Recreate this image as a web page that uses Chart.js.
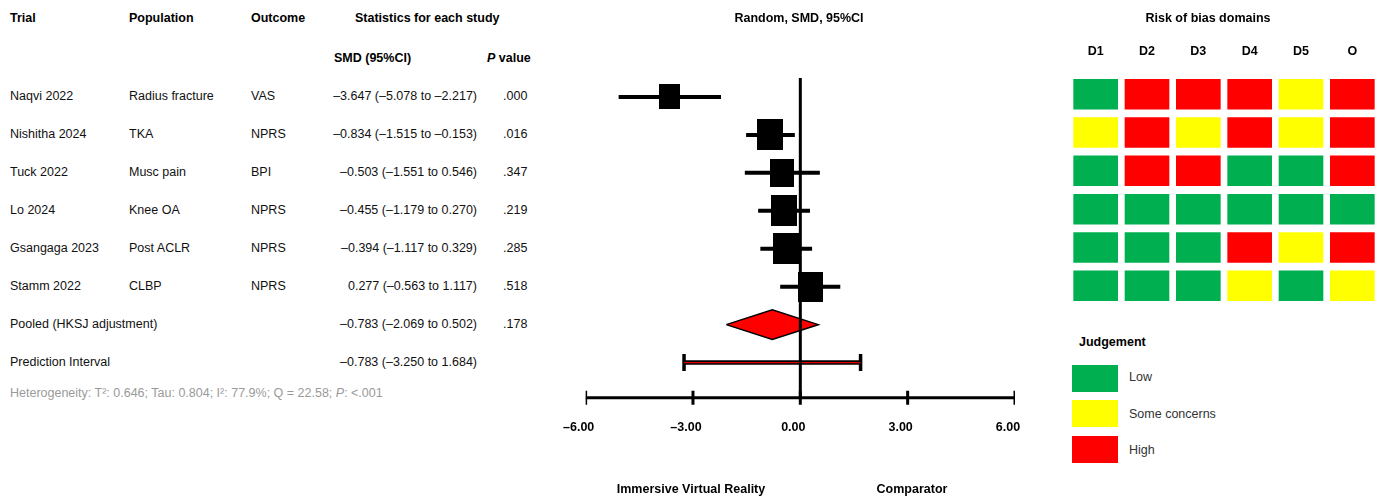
<!DOCTYPE html>
<html><head><meta charset="utf-8">
<script src="https://cdn.jsdelivr.net/npm/chart.js@4.4.1/dist/chart.umd.min.js"></script>
<style>
html,body{margin:0;padding:0;background:#fff;}
body{width:1386px;height:500px;position:relative;overflow:hidden;font-family:"Liberation Sans",Arial,sans-serif;font-size:12.5px;color:#111;}
.t{position:absolute;white-space:nowrap;line-height:14px;height:14px;}
.b{font-weight:bold;color:#000;}
.r{text-align:right;}
.c{text-align:center;}
canvas{position:absolute;top:0;}
#forest{left:560px;}
#rob{left:1040px;}
.sw{position:absolute;width:46px;height:27px;}
</style></head><body>
<div id="table"></div>
<canvas id="forest" width="480" height="500"></canvas>
<canvas id="rob" width="346" height="310"></canvas>
<script>
// ---------- DATA ----------
const trials = ["Naqvi 2022","Nishitha 2024","Tuck 2022","Lo 2024","Gsangaga 2023","Stamm 2022"];
const populations = ["Radius fracture","TKA","Musc pain","Knee OA","Post ACLR","CLBP"];
const outcomes = ["VAS","NPRS","BPI","NPRS","NPRS","NPRS"];
const smd = [-3.647,-0.834,-0.503,-0.455,-0.394,0.277];
const ciLow = [-5.078,-1.515,-1.551,-1.179,-1.117,-0.563];
const ciHigh = [-2.217,-0.153,0.546,0.270,0.329,1.117];
const pValues = [".000",".016",".347",".219",".285",".518"];
const weights = [12.1,18.7,15.4,18.3,18.3,17.2]; // estimated study weights (%)
const pooledLabel = "Pooled (HKSJ adjustment)";
const pooledSMD = -0.783, pooledLow = -2.069, pooledHigh = 0.502, pooledP = ".178";
const predLabel = "Prediction Interval";
const predLow = -3.250, predHigh = 1.684;
const heterogeneity = {t2:"0.646", tau:"0.804", i2:"77.9%", q:"22.58", p:"<.001"};
const xTicks = [-6,-3,0,3,6];
const domains = ["D1","D2","D3","D4","D5","O"];
const robJudgements = [
  ["Low","High","High","High","Some","High"],
  ["Some","High","Some","High","Some","High"],
  ["Low","High","High","Low","Low","High"],
  ["Low","Low","Low","Low","Low","Low"],
  ["Low","Low","Low","High","Some","High"],
  ["Low","Low","Low","Some","Low","Some"]
];
const judgementLevels = ["Low","Some","High"];
const judgementLabels = ["Low","Some concerns","High"];

// ---------- STYLE / LAYOUT ----------
const FONT = '"Liberation Sans", Arial, sans-serif';
const colors = {Low:"#00B050", Some:"#FFFF00", High:"#FF0000"};
const ROW_H = 37.93;

function fmt(v, d){ const s = Math.abs(v).toFixed(d); return v < 0 ? "\u2013" + s : s; }
function ciText(e,l,h){ return fmt(e,3) + " (" + fmt(l,3) + " to " + fmt(h,3) + ")"; }

// ---------- TABLE (HTML text) ----------
function addText(html, left, cy, cls, extra){
  const d = document.createElement("div");
  d.className = "t " + (cls||"");
  d.innerHTML = html;
  d.style.left = left + "px";
  d.style.top = (cy - 7) + "px";
  if (extra) Object.assign(d.style, extra);
  document.body.appendChild(d);
  return d;
}
addText("Trial", 10, 18, "b");
addText("Population", 129, 18, "b");
addText("Outcome", 251, 18, "b");
addText("Statistics for each study", 355, 18, "b");
addText("SMD (95%CI)", 334, 58, "b");
addText("<i>P</i> value", 487, 58, "b");
trials.forEach((t,i)=>{
  const cy = 96 + i*ROW_H;
  addText(t, 10, cy);
  addText(populations[i], 129, cy);
  addText(outcomes[i], 251, cy);
  addText(ciText(smd[i],ciLow[i],ciHigh[i]), 277, cy, "r", {width:"200px"});
  addText(pValues[i], 503, cy);
});
addText(pooledLabel, 10, 96 + 6*ROW_H);
addText(ciText(pooledSMD,pooledLow,pooledHigh), 277, 96 + 6*ROW_H, "r", {width:"200px"});
addText(pooledP, 503, 96 + 6*ROW_H);
addText(predLabel, 10, 96 + 7*ROW_H);
addText(ciText(pooledSMD,predLow,predHigh), 277, 96 + 7*ROW_H, "r", {width:"200px"});
addText("Heterogeneity: T\u00B2: " + heterogeneity.t2 + "; Tau: " + heterogeneity.tau + "; I\u00B2: " + heterogeneity.i2 +
        "; Q = " + heterogeneity.q + "; <i>P</i>: " + heterogeneity.p, 10, 393, "", {color:"#9a9a9a"});

// titles and labels
addText("Random, SMD, 95%CI", 699, 18, "b c", {width:"200px"});
addText("Immersive Virtual Reality", 591, 489, "b c", {width:"200px"});
addText("Comparator", 812, 489, "b c", {width:"200px"});
addText("Risk of bias domains", 1108, 18, "b c", {width:"200px"});
addText("Judgement", 1079, 342, "b");
judgementLevels.forEach((j,k)=>{
  const top = [365, 400, 436][k];
  const sw = document.createElement("div");
  sw.className = "sw";
  sw.style.left = "1072px"; sw.style.top = top + "px"; sw.style.background = colors[j];
  document.body.appendChild(sw);
  addText(judgementLabels[k], 1129, [377, 414, 450][k], "", {color:"#333"});
});

// ---------- FOREST PLOT ----------
const AXIS_ROW = 7.93;
const DIAMOND_HALF = 0.39;
function squareImg(w){
  const s = Math.round(6.1*Math.sqrt(w));
  const h = Math.round(s*1.18);
  const c = document.createElement("canvas");
  c.width = s; c.height = h;
  const g = c.getContext("2d"); g.fillStyle = "#000"; g.fillRect(0,0,s,h);
  return c;
}
const ciData = [];
smd.forEach((v,i)=>{ ciData.push({x:ciLow[i],y:i},{x:ciHigh[i],y:i},{x:ciHigh[i],y:null}); });
const pooledRow = smd.length, predRow = smd.length + 1;

new Chart(document.getElementById("forest"), {
  type: "scatter",
  data: { datasets: [
    { type:"line", data:[{x:0,y:-0.5},{x:0,y:AXIS_ROW}], borderColor:"#000", borderWidth:3, pointRadius:0, order:0 },
    { type:"line", data:[{x:predLow,y:predRow},{x:predHigh,y:predRow}], borderColor:"#e00000", borderWidth:1.3, pointRadius:0, order:1 },
    { type:"line", data:[{x:predLow,y:predRow},{x:predHigh,y:predRow}], borderColor:"#000", borderWidth:4.5, pointRadius:0, order:2 },
    { type:"scatter", data:[{x:predLow,y:predRow},{x:predHigh,y:predRow}], pointStyle:"line", rotation:90, pointRadius:8.5, borderColor:"#000", borderWidth:3.5, order:2 },
    { type:"scatter", data: smd.map((v,i)=>({x:v,y:i})), pointStyle: weights.map(squareImg), order:3 },
    { type:"line", data: ciData, borderColor:"#000", borderWidth:4, pointRadius:0, spanGaps:false, order:4 },
    { type:"line", data:[{x:pooledLow,y:pooledRow},{x:pooledSMD,y:pooledRow-DIAMOND_HALF},{x:pooledHigh,y:pooledRow},{x:pooledSMD,y:pooledRow+DIAMOND_HALF},{x:pooledLow,y:pooledRow}],
      fill:"shape", backgroundColor:"#FF0000", borderColor:"#000", borderWidth:1.5, pointRadius:0, tension:0, order:3 },
    { type:"line", data:[{x:xTicks[0],y:AXIS_ROW},{x:xTicks[xTicks.length-1],y:AXIS_ROW}], borderColor:"#000", borderWidth:3, pointRadius:0, order:5 },
    { type:"scatter", data: xTicks.map(v=>({x:v,y:AXIS_ROW})), pointStyle:"line", rotation:90, pointRadius:7, borderColor:"#000", borderWidth:3, order:5 }
  ]},
  options: {
    responsive:false, animation:false, events:[],
    layout:{ padding:{ left:25, right:25, top:78, bottom:65 } },
    plugins:{ legend:{display:false}, tooltip:{enabled:false} },
    scales:{
      x:{ type:"linear", min:-6, max:6,
          afterBuildTicks: s => { s.ticks = xTicks.map(v=>({value:v})); },
          afterFit: s => { s.height = 25; },
          ticks:{ callback: v => fmt(v,2), font:{family:FONT, size:12.5, weight:"bold"}, color:"#000", padding:10, maxRotation:0, labelOffset:-7 },
          grid:{ display:false, drawTicks:false }, border:{ display:false } },
      y:{ type:"linear", reverse:true, min:-0.5, max:8.25, display:false }
    }
  }
});

// ---------- RISK OF BIAS GRID ----------
const CELL_HALF = 0.39;
new Chart(document.getElementById("rob"), {
  type: "bar",
  data: {
    labels: domains,
    datasets: robJudgements.map((row,i)=>({
      data: row.map(()=>[i-CELL_HALF, i+CELL_HALF]),
      backgroundColor: row.map(j=>colors[j]),
      borderWidth:0, barThickness:44, grouped:false
    }))
  },
  options: {
    responsive:false, animation:false, events:[],
    layout:{ padding:{ left:30, right:8, top:45, bottom:5 } },
    plugins:{ legend:{display:false}, tooltip:{enabled:false} },
    scales:{
      x:{ position:"top", offset:true,
          afterFit: s => { s.height = 30; },
          ticks:{ font:{family:FONT, size:12.5, weight:"bold"}, color:"#000", padding:16 },
          grid:{ display:false, drawTicks:false }, border:{ display:false } },
      y:{ type:"linear", reverse:true, min:-0.5, max:5.5, display:false }
    }
  }
});
</script>
</body></html>
